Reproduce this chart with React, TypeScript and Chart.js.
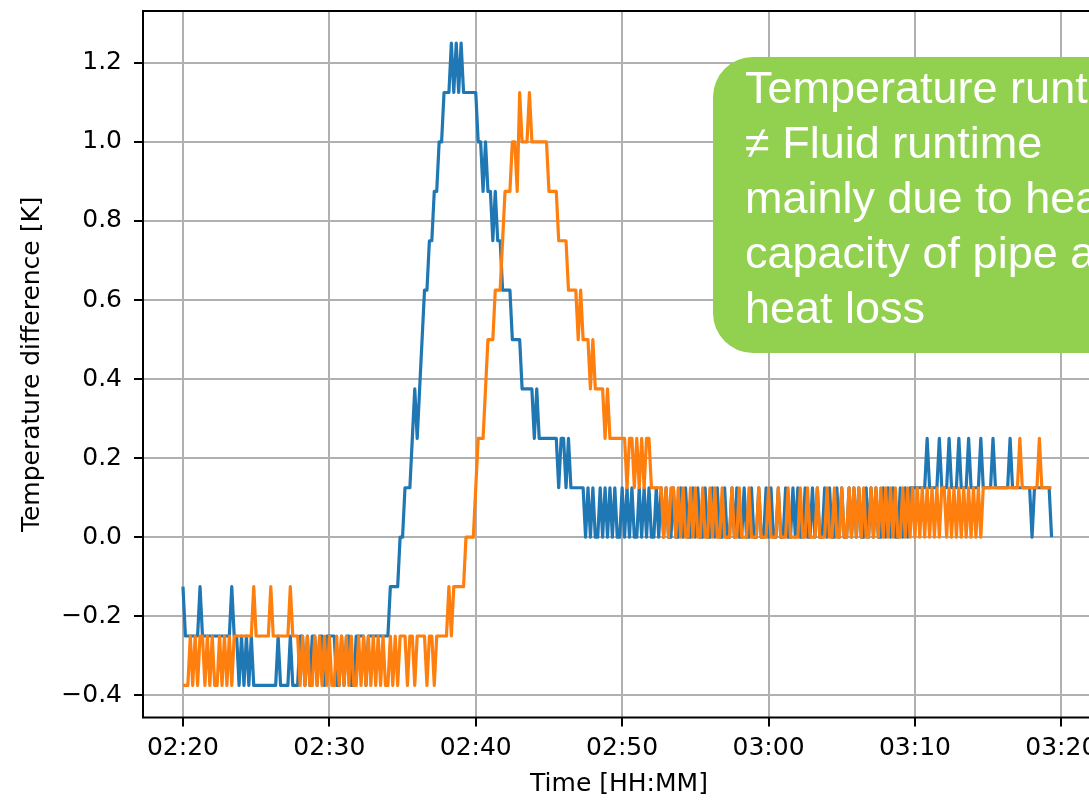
import React, { useEffect, useRef } from "react";
import { Chart, registerables } from "chart.js";

Chart.register(...registerables);

// ---- data -------------------------------------------------------------
// one reading every 10 s, starting 02:20:00
const SAMPLE_SECONDS = 10;
const X_TICK_MINUTES = [0, 10, 20, 30, 40, 50, 60];
const X_TICK_LABELS = ["02:20", "02:30", "02:40", "02:50", "03:00", "03:10", "03:20"];
const Y_TICKS = [-0.4, -0.2, 0.0, 0.2, 0.4, 0.6, 0.8, 1.0, 1.2];
const X_TITLE = "Time [HH:MM]";
const Y_TITLE = "Temperature difference [K]";
const NOTE_LINES = [
  "Temperature runtime",
  "\u2260 Fluid runtime",
  "mainly due to heat",
  "capacity of pipe and",
  "heat loss",
];

// temperature difference [K], series 1 (blue)
const BLUE_DT = [
  -0.125,-0.25,-0.25,-0.25,-0.25,-0.25,-0.25,-0.125,-0.25,-0.25,-0.25,-0.25,
  -0.25,-0.25,-0.25,-0.25,-0.25,-0.25,-0.25,-0.25,-0.125,-0.25,-0.25,-0.375,
  -0.25,-0.375,-0.25,-0.375,-0.25,-0.375,-0.375,-0.375,-0.375,-0.375,-0.375,-0.375,
  -0.375,-0.375,-0.375,-0.25,-0.375,-0.375,-0.375,-0.375,-0.25,-0.375,-0.375,-0.375,
  -0.25,-0.25,-0.375,-0.25,-0.375,-0.25,-0.25,-0.375,-0.25,-0.25,-0.375,-0.25,
  -0.25,-0.25,-0.25,-0.375,-0.375,-0.25,-0.375,-0.25,-0.25,-0.375,-0.375,-0.25,
  -0.25,-0.25,-0.25,-0.375,-0.25,-0.25,-0.25,-0.25,-0.25,-0.25,-0.25,-0.25,
  -0.25,-0.125,-0.125,-0.125,-0.125,0,0,0.125,0.125,0.125,0.25,0.375,
  0.25,0.375,0.5,0.625,0.625,0.75,0.75,0.875,0.875,1,1,1.125,
  1.125,1.125,1.25,1.125,1.25,1.125,1.25,1.125,1.125,1.125,1.125,1.125,
  1.125,1,1,0.875,1,0.875,0.875,0.75,0.875,0.75,0.75,0.625,
  0.625,0.625,0.625,0.5,0.5,0.5,0.5,0.375,0.375,0.375,0.375,0.375,
  0.25,0.375,0.25,0.25,0.25,0.25,0.25,0.25,0.25,0.25,0.125,0.25,
  0.25,0.125,0.25,0.125,0.125,0.125,0.125,0.125,0.125,0,0.125,0,
  0.125,0,0,0.125,0,0.125,0,0.125,0,0.125,0,0,
  0.125,0,0.125,0,0.125,0,0,0.125,0,0.125,0,0.125,
  0,0,0.125,0,0.125,0,0.125,0,0,0.125,0,0,
  0.125,0,0.125,0,0,0.125,0,0.125,0,0,0.125,0,
  0,0.125,0,0.125,0,0,0.125,0,0,0.125,0,0.125,
  0,0,0.125,0,0,0.125,0,0,0.125,0,0,0.125,
  0,0.125,0,0,0.125,0,0,0.125,0,0,0.125,0,
  0.125,0,0,0.125,0,0,0.125,0,0.125,0,0,0.125,
  0,0.125,0,0,0.125,0,0.125,0,0,0.125,0,0.125,
  0,0.125,0,0,0.125,0,0.125,0,0.125,0,0,0.125,
  0,0.125,0,0.125,0,0,0.125,0,0.125,0,0.125,0.125,
  0.125,0.125,0.125,0.125,0.125,0.25,0.125,0.125,0.125,0.125,0.25,0.125,
  0.125,0.125,0.25,0.125,0.125,0.125,0.25,0.125,0.125,0.125,0.25,0.125,
  0.125,0.125,0.125,0.25,0.125,0.125,0.125,0.125,0.25,0.125,0.125,0.125,
  0.125,0.125,0.125,0.25,0.125,0.125,0.125,0.125,0.125,0.125,0.125,0.125,
  0,0.125,0.125,0.125,0.125,0.125,0.125,0.125,0,
];

// temperature difference [K], series 2 (orange)
const ORANGE_DT = [
  -0.375,-0.375,-0.375,-0.25,-0.375,-0.25,-0.375,-0.25,-0.25,-0.375,-0.25,-0.375,
  -0.25,-0.375,-0.375,-0.25,-0.375,-0.25,-0.375,-0.25,-0.375,-0.25,-0.25,-0.25,
  -0.25,-0.25,-0.25,-0.25,-0.25,-0.125,-0.25,-0.25,-0.25,-0.25,-0.25,-0.25,
  -0.125,-0.25,-0.25,-0.25,-0.25,-0.25,-0.25,-0.25,-0.125,-0.25,-0.25,-0.25,
  -0.375,-0.25,-0.375,-0.25,-0.375,-0.375,-0.25,-0.375,-0.25,-0.375,-0.25,-0.375,
  -0.25,-0.375,-0.375,-0.25,-0.375,-0.25,-0.375,-0.25,-0.375,-0.25,-0.375,-0.375,
  -0.25,-0.375,-0.25,-0.375,-0.25,-0.375,-0.25,-0.375,-0.25,-0.375,-0.25,-0.375,
  -0.375,-0.25,-0.375,-0.25,-0.375,-0.25,-0.25,-0.25,-0.375,-0.25,-0.25,-0.375,
  -0.25,-0.25,-0.25,-0.25,-0.375,-0.25,-0.25,-0.375,-0.25,-0.25,-0.25,-0.25,
  -0.25,-0.125,-0.25,-0.125,-0.125,-0.125,-0.125,-0.125,0,0,0,0,
  0.125,0.25,0.25,0.25,0.375,0.5,0.5,0.5,0.625,0.625,0.625,0.75,
  0.875,0.875,0.875,1,1,0.875,1.125,1,1,1,1.125,1,
  1,1,1,1,1,1,0.875,0.875,0.875,0.875,0.75,0.75,
  0.75,0.75,0.625,0.625,0.625,0.625,0.5,0.625,0.5,0.5,0.5,0.375,
  0.5,0.375,0.375,0.375,0.375,0.25,0.375,0.25,0.25,0.25,0.25,0.25,
  0.25,0.25,0.125,0.25,0.25,0.125,0.25,0.125,0.25,0.125,0.25,0.25,
  0.125,0.125,0.125,0.125,0.125,0,0.125,0,0.125,0.125,0,0.125,
  0,0.125,0,0,0.125,0,0.125,0,0,0.125,0,0,
  0.125,0,0.125,0,0,0.125,0,0,0,0.125,0,0,
  0.125,0,0,0,0.125,0,0,0,0.125,0,0,0,
  0.125,0,0,0,0.125,0,0,0,0.125,0,0,0,
  0,0.125,0,0,0.125,0,0,0,0.125,0,0,0,
  0.125,0,0,0.125,0,0,0.125,0,0,0.125,0,0.125,
  0,0.125,0,0.125,0,0,0.125,0,0.125,0,0.125,0,
  0.125,0,0.125,0,0.125,0,0,0.125,0,0.125,0,0.125,
  0,0.125,0,0.125,0,0.125,0,0.125,0,0.125,0,0.125,
  0.125,0,0.125,0,0.125,0,0.125,0,0.125,0,0.125,0,
  0.125,0,0.125,0,0.125,0.125,0.125,0.125,0.125,0.125,0.125,0.125,
  0.125,0.125,0.125,0.125,0.125,0.125,0.125,0.25,0.125,0.125,0.125,0.125,
  0.125,0.125,0.125,0.25,0.125,0.125,0.125,0.125,0.125,
];

// ---- layout -----------------------------------------------------------
const CANVAS_W = 1140;
const CANVAS_H = 800;
const PLOT_LEFT = 143;
const PLOT_TOP = 11;
const PLOT_BOTTOM = 717.5;
const PLOT_RIGHT = 1095;
const X_MIN = -2.73;
const X_MAX = 62.3;
const Y_MIN = -0.45625;
const Y_MAX = 1.33125;

const TICK_FONT = { family: "'DejaVu Sans', sans-serif", size: 25, lineHeight: 1.2 };

const fmtY = (v: number) => {
  const s = Math.abs(v).toFixed(1);
  return v < -1e-9 ? "\u2212" + s : s;
};

const toPoints = (arr: number[]) =>
  arr.map((v, i) => ({ x: (i * SAMPLE_SECONDS) / 60, y: v }));

const spinePlugin = {
  id: "spines",
  afterDraw(chart: any) {
    const { ctx, chartArea: a } = chart;
    ctx.save();
    ctx.strokeStyle = "#000";
    ctx.lineWidth = 2;
    ctx.strokeRect(a.left, a.top, a.right - a.left, a.bottom - a.top);
    ctx.restore();
  },
};

export default function App() {
  const ref = useRef<HTMLCanvasElement>(null);

  useEffect(() => {
    const canvas = ref.current;
    if (!canvas) return;
    const chart = new Chart(canvas, {
      type: "line",
      data: {
        datasets: [
          {
            label: "series 1",
            data: toPoints(BLUE_DT),
            borderColor: "#1f77b4",
            backgroundColor: "#1f77b4",
            borderWidth: 3.2,
            pointRadius: 0,
            tension: 0,
            fill: false,
            borderJoinStyle: "round",
            order: 2,
          },
          {
            label: "series 2",
            data: toPoints(ORANGE_DT),
            borderColor: "#ff7f0e",
            backgroundColor: "#ff7f0e",
            borderWidth: 3.2,
            pointRadius: 0,
            tension: 0,
            fill: false,
            borderJoinStyle: "round",
            order: 1,
          },
        ],
      },
      options: {
        responsive: false,
        animation: false,
        devicePixelRatio: 1,
        events: [],
        layout: {
          padding: { left: 0, top: PLOT_TOP, right: CANVAS_W - PLOT_RIGHT, bottom: 0 },
        },
        plugins: {
          legend: { display: false },
          tooltip: { enabled: false },
        },
        scales: {
          x: {
            type: "linear",
            min: X_MIN,
            max: X_MAX,
            afterBuildTicks: (s: any) => {
              s.ticks = X_TICK_MINUTES.map((v) => ({ value: v }));
            },
            afterFit: (s: any) => {
              s.height = CANVAS_H - PLOT_BOTTOM;
              s.paddingLeft = 0;
              s.paddingRight = 0;
            },
            ticks: {
              autoSkip: false,
              maxRotation: 0,
              minRotation: 0,
              padding: 7,
              color: "#000",
              font: TICK_FONT,
              callback: (_v: any, i: number) => X_TICK_LABELS[i],
            },
            grid: {
              color: "#b0b0b0",
              lineWidth: 2,
              drawTicks: true,
              tickLength: 9,
              tickColor: "#000",
              tickWidth: 2,
            },
            border: { display: false },
            title: {
              display: true,
              text: X_TITLE,
              color: "#000",
              font: TICK_FONT,
              padding: { top: 0, bottom: 1 },
            },
          },
          y: {
            type: "linear",
            min: Y_MIN,
            max: Y_MAX,
            afterBuildTicks: (s: any) => {
              s.ticks = Y_TICKS.map((v) => ({ value: v }));
            },
            afterFit: (s: any) => {
              s.width = PLOT_LEFT;
              s.paddingTop = 0;
              s.paddingBottom = 0;
            },
            ticks: {
              autoSkip: false,
              padding: 12,
              color: "#000",
              font: TICK_FONT,
              callback: (v: any) => fmtY(Number(v)),
            },
            grid: {
              color: "#b0b0b0",
              lineWidth: 2,
              drawTicks: true,
              tickLength: 9,
              tickColor: "#000",
              tickWidth: 2,
            },
            border: { display: false },
            title: {
              display: true,
              text: Y_TITLE,
              color: "#000",
              font: TICK_FONT,
              padding: { top: 17, bottom: 0 },
            },
          },
        },
      },
      plugins: [spinePlugin],
    } as any);
    return () => chart.destroy();
  }, []);

  return (
    <div
      style={{
        position: "fixed",
        left: 0,
        top: 0,
        width: 1089,
        height: 800,
        overflow: "hidden",
        background: "#fff",
      }}
    >
      <canvas
        ref={ref}
        width={CANVAS_W}
        height={CANVAS_H}
        style={{ display: "block", width: CANVAS_W, height: CANVAS_H }}
      />
      <div
        style={{
          position: "absolute",
          left: 713,
          top: 57,
          width: 440,
          height: 296,
          boxSizing: "border-box",
          borderRadius: 40,
          background: "#92D050",
          color: "#fff",
          fontFamily: "'Liberation Sans', Arial, sans-serif",
          fontSize: 45,
          lineHeight: "55px",
          paddingTop: 3,
          paddingLeft: 32,
          whiteSpace: "nowrap",
        }}
      >
        {NOTE_LINES.map((l) => (
          <div key={l}>{l}</div>
        ))}
      </div>
    </div>
  );
}
